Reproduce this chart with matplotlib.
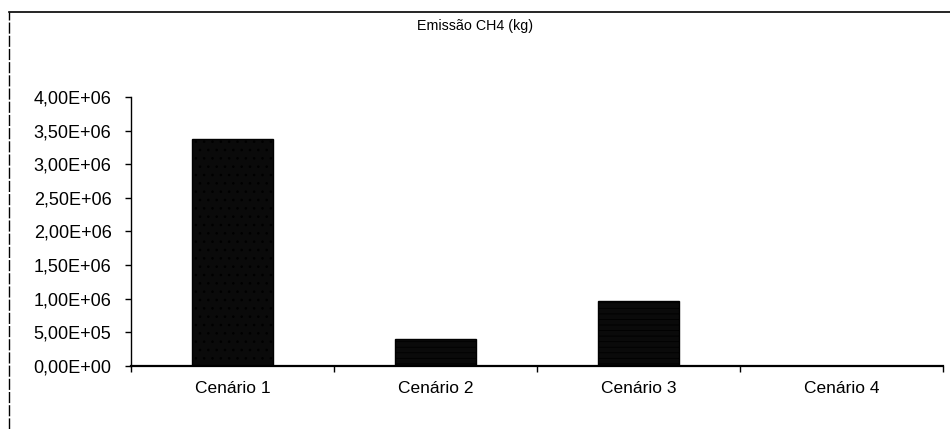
import numpy as np
import matplotlib
matplotlib.use("Agg")
import matplotlib.pyplot as plt
from matplotlib.lines import Line2D
from matplotlib.ticker import FuncFormatter, FixedLocator

plt.rcParams['font.family'] = ['Liberation Sans', 'DejaVu Sans']
plt.rcParams['hatch.color'] = 'white'
plt.rcParams['hatch.linewidth'] = 0.6

# data
cenarios = ['Cenário 1', 'Cenário 2', 'Cenário 3', 'Cenário 4']
emissao_ch4 = [3.38e6, 0.40e6, 0.97e6, 0.0]
hatches = ['..', '---', '---', '---']

fig = plt.figure(figsize=(9.5, 4.29), dpi=100)
ax = fig.add_axes([0.1379, 0.1469, 0.8547, 0.627])

x = np.arange(len(cenarios))
bars = ax.bar(x, emissao_ch4, width=0.40, color='#0a0a0a', edgecolor='black', linewidth=1.0)
for b, h in zip(bars, hatches):
    b.set_hatch(h)

ax.set_xlim(-0.5, len(cenarios) - 0.5)
ax.set_ylim(0, 4.0e6)
ax.set_yticks(np.arange(0, 4.0e6 + 1, 0.5e6))
ax.yaxis.set_major_formatter(FuncFormatter(lambda v, p: f"{v:.2E}".replace('.', ',')))

ax.set_xticks(x)
ax.set_xticklabels(cenarios)
ax.xaxis.set_minor_locator(FixedLocator(np.arange(-0.5, len(cenarios), 1.0)))
ax.tick_params(axis='x', which='major', length=0, pad=11, labelsize=12.5)
ax.tick_params(axis='x', which='minor', length=4, width=1, direction='out')
ax.tick_params(axis='y', length=4, width=1, direction='out', pad=10, labelsize=13)

ax.spines['top'].set_visible(False)
ax.spines['right'].set_visible(False)
ax.spines['bottom'].set_linewidth(1.6)
ax.spines['left'].set_linewidth(1.0)

fig.text(0.5, 0.94, 'Emissão CH4 (kg)', ha='center', va='center', fontsize=10.3)

# outer chart frame (top and left edges visible in the scan)
fig.add_artist(Line2D([0.0095, 1.0], [0.972, 0.972], color='black', linewidth=1.2, transform=fig.transFigure))
fig.add_artist(Line2D([0.0095, 0.0095], [0.0, 0.972], color='black', linewidth=1.0,
                      linestyle=(0, (8, 1.5)), transform=fig.transFigure))

fig.savefig('out.png', dpi=100)
